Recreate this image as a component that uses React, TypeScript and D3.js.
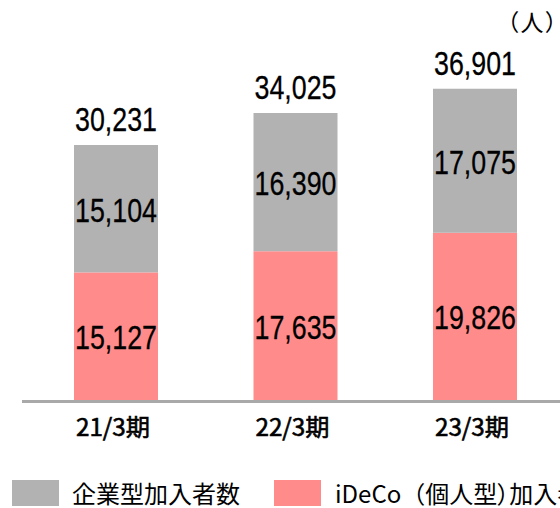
import React from 'react';
import * as d3 from 'd3';

const categories = ['21/3期', '22/3期', '23/3期'];
const corporate = [15104, 16390, 17075];
const ideco = [15127, 17635, 19826];
const totals = [30231, 34025, 36901];
const legendLabels = ['企業型加入者数', 'iDeCo（個人型', '）', '加入者数'];
const unitLabel = '（人）';

const GRAY = '#b2b2b2';
const PINK = '#ff8b8b';
const NUM_FONT = '"Liberation Sans Narrow", "Liberation Sans", Arial, sans-serif';
const JP_FONT = '"Noto Sans CJK JP", "Noto Sans", sans-serif';

export default function App() {
  const width = 560;
  const height = 508;
  const baseline = 400;

  const x = d3.scaleBand()
    .domain(categories)
    .range([26.25, 564.75])
    .paddingInner(0.532)
    .paddingOuter(0.266);

  const y = d3.scaleLinear()
    .domain([0, 40000])
    .range([baseline, baseline - 0.008435 * 40000]);

  const fmt = d3.format(',');
  const bw = x.bandwidth();

  // number label, squeezed to the narrow look of the original
  const num = (key: string, cx: number, yy: number, v: number) => (
    <text key={key} x={cx} y={yy} textAnchor="middle" fontFamily={NUM_FONT}
      fontSize={34} textLength={82} lengthAdjust="spacingAndGlyphs"
      fill="#000" stroke="#000" strokeWidth={0.3}>
      {fmt(v)}
    </text>
  );

  return (
    <svg width={width} height={height} style={{ position: 'absolute', left: 0, top: 0, background: '#fff' }}>
      {categories.map((c, i) => {
        const x0 = x(c)!;
        const cx = x0 + bw / 2;
        const yPink = y(ideco[i]);
        const yTop = y(ideco[i] + corporate[i]);
        return (
          <g key={c}>
            <rect x={x0} y={yPink} width={bw} height={baseline - yPink} fill={PINK} />
            <rect x={x0} y={yTop} width={bw} height={yPink - yTop} fill={GRAY} />
            {num('p', cx, (yPink + baseline) / 2 + 13, ideco[i])}
            {num('g', cx, (yTop + yPink) / 2 + 13, corporate[i])}
            {num('t', cx, yTop - 14, totals[i])}
            <text x={cx - 3} y={436} textAnchor="middle" fontFamily={JP_FONT}
              fontSize={24} textLength={74} lengthAdjust="spacingAndGlyphs"
              fill="#000" stroke="#000" strokeWidth={0.6}>
              {c}
            </text>
          </g>
        );
      })}

      <line x1={22} x2={width} y1={401.5} y2={401.5} stroke="#a9a9a9" strokeWidth={3} />

      <text x={507} y={31} fontFamily={JP_FONT} fontSize={23} letterSpacing={2} fill="#000"
        style={{ fontFeatureSettings: '"palt"' }}>
        {unitLabel}
      </text>

      <rect x={12} y={480} width={47} height={26} fill={GRAY} />
      <text x={72} y={503} fontFamily={JP_FONT} fontSize={24} fill="#000">{legendLabels[0]}</text>
      <rect x={274} y={480} width={47} height={26} fill={PINK} />
      <text x={335} y={503} fontFamily={JP_FONT} fontSize={24} fill="#000">
        <tspan>{legendLabels[1]}</tspan>
        <tspan style={{ fontFeatureSettings: '"palt"' }}>{legendLabels[2]}</tspan>
        <tspan>{legendLabels[3]}</tspan>
      </text>
    </svg>
  );
}
